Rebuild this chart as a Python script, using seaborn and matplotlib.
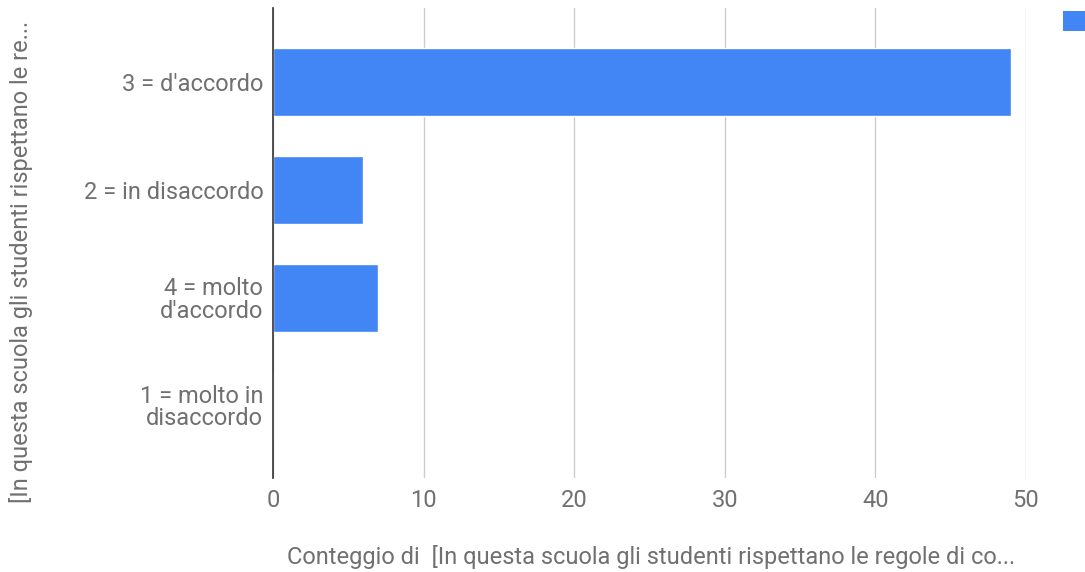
import pandas as pd
import matplotlib
matplotlib.use('Agg')
import matplotlib.pyplot as plt
from matplotlib.patches import Patch
import seaborn as sns

categories = ["3 = d'accordo", "2 = in disaccordo", "4 = molto\nd'accordo", "1 = molto in\ndisaccordo"]
counts = [49, 6, 7, 0]
x_ticks = [0, 10, 20, 30, 40, 50]

x_title = 'Conteggio di  [In questa scuola gli studenti rispettano le regole di co...'
y_title = '[In questa scuola gli studenti rispettano le re...'

bar_color = '#4285F4'
text_color = '#707070'
fsize = 17

sns.set_style('white')
plt.rcParams['font.family'] = ['Roboto', 'DejaVu Sans']

df = pd.DataFrame({'risposta': categories, 'conteggio': counts})

fig = plt.figure(figsize=(10.85, 5.72), dpi=100)
ax = fig.add_axes([273 / 1085, 1 - 478 / 572, (1026 - 273) / 1085, (478 - 8) / 572])

sns.barplot(data=df, x='conteggio', y='risposta', orient='h', color=bar_color,
            saturation=1, width=0.63, ax=ax)

ax.set_xlim(0, 50)
ax.set_ylim(3.67, -0.69)
ax.set_xticks(x_ticks)
ax.xaxis.grid(True, color='#cccccc', linewidth=1)
ax.set_axisbelow(True)
for s in ['top', 'right', 'bottom']:
    ax.spines[s].set_visible(False)
ax.spines['left'].set_color('#333333')
ax.spines['left'].set_linewidth(1.2)
ax.tick_params(axis='both', length=0, labelsize=fsize, labelcolor=text_color)
ax.tick_params(axis='y', pad=7)
ax.tick_params(axis='x', pad=8)
for lbl in ax.get_yticklabels():
    lbl.set_linespacing(0.95)
ax.set_xlabel('')
ax.set_ylabel('')

fig.text(651 / 1085, 1 - 557 / 572, x_title, ha='center', va='center', fontsize=fsize, color=text_color)
fig.text(21 / 1085, 1 - 262 / 572, y_title, ha='center', va='center', rotation=90,
         fontsize=fsize, color=text_color)

fig.legend(handles=[Patch(facecolor=bar_color, edgecolor='none')], labels=[''],
           loc='upper left', bbox_to_anchor=(1063 / 1085, 1 - 11 / 572), frameon=False,
           handlelength=1, handleheight=1, borderpad=0, borderaxespad=0, fontsize=16,
           handletextpad=0.2)

fig.savefig('out.png', dpi=100)
